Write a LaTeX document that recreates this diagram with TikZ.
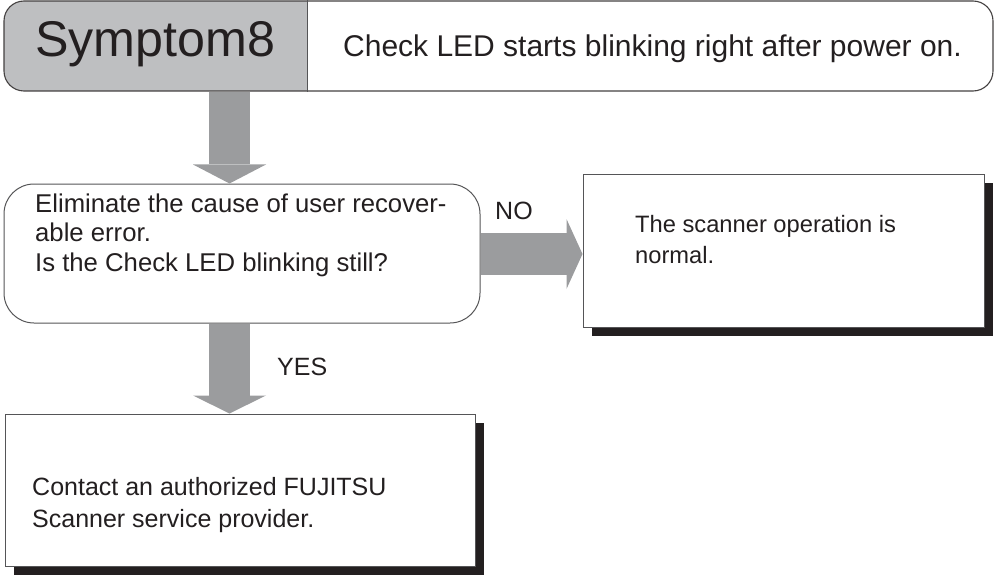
\documentclass[tikz,border=0pt]{standalone}
\usepackage{fontspec}
\setmainfont{Liberation Sans}
\usetikzlibrary{arrows.meta,shadows}
\definecolor{hdrgray}{HTML}{BEBFC1}
\definecolor{arrgray}{HTML}{9B9C9E}
\definecolor{ink}{HTML}{231F20}
\definecolor{edge}{HTML}{555557}
\begin{document}
\begin{tikzpicture}[x=1pt,y=-1pt,
  txt/.style={anchor=base west, inner sep=0pt, text=ink, font=\fontsize{25}{30}\selectfont},
  boxs/.style={draw=edge, line width=1pt, fill=white, inner sep=0pt},
  shadowbox/.style={boxs, drop shadow={shadow xshift=9pt, shadow yshift=-9pt, fill=ink, opacity=1}},
  blockarrow/.style={draw=arrgray, line width=#1, line cap=butt},
  blockarrow/.default=41pt
]
\useasboundingbox (0,0) rectangle (996,575);

% header
\begin{scope}
  \clip[rounded corners=20pt] (4,1) rectangle (993,91);
  \fill[hdrgray] (4,1) rectangle (307,91);
\end{scope}
\node[draw=ink!85, line width=1.1pt, rounded corners=20pt, minimum width=989pt, minimum height=90pt, inner sep=0pt] (hdr) at (498.5,46) {};
\coordinate (div) at (307,0);
\draw[edge, line width=1pt] (hdr.north -| div) -- (hdr.south -| div);
\node[txt, font=\fontsize{50.2}{60}\selectfont] (symt) at (35,57) {Symptom8};
\node[txt, font=\fontsize{30}{36}\selectfont] (desct) at (343,57) {Check LED starts blinking right after power on.};

% decision
\node[boxs, rounded corners=30pt, minimum width=476pt, minimum height=139pt] (dec) at (242,253.5) {};
\node[txt, font=\fontsize{25.7}{30}\selectfont] (dec1) at (35,212) {Eliminate the cause of user recover-};
\node[txt, font=\fontsize{25.7}{30}\selectfont] (dec2) at (35,241) {able error.};
\node[txt, font=\fontsize{25.7}{30}\selectfont] (dec3) at (35,271) {Is the Check LED blinking still?};

% result box
\node[shadowbox, minimum width=401pt, minimum height=153pt] (res) at (783.5,250.5) {};
\node[txt, font=\fontsize{23.7}{30}\selectfont] (res1) at (635,232) {The scanner operation is};
\node[txt, font=\fontsize{23.7}{30}\selectfont] (res2) at (635,263) {normal.};

% contact box
\node[shadowbox, minimum width=470pt, minimum height=152pt] (con) at (240,490) {};
\node[txt] (con1) at (32,495) {Contact an authorized FUJITSU};
\node[txt] (con2) at (32,527) {Scanner service provider.};

% block arrows
\coordinate (ax) at (229.5,0);
\coordinate (ay) at (0,254);
\draw[blockarrow, -{Triangle[width=73pt,length=19pt,line width=0pt,fill=arrgray]}]
  (hdr.south -| ax) -- (dec.north -| ax);
\draw[blockarrow, -{Triangle[width=73pt,length=18pt,line width=0pt,fill=arrgray]}]
  (dec.south -| ax) -- (con.north -| ax);
\draw[blockarrow=42pt, -{Triangle[width=70pt,length=16pt,line width=0pt,fill=arrgray]}]
  (dec.east |- ay) -- (res.west |- ay);

% labels
\node[txt] (no) at (495,219) {NO};
\node[txt] (yes) at (277,375) {YES};
\end{tikzpicture}
\end{document}
